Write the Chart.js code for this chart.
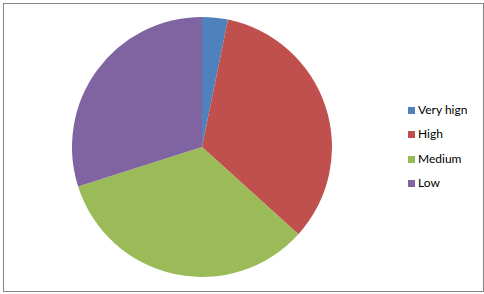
<!DOCTYPE html>
<html>
<head>
<meta charset="utf-8">
<script src="https://cdn.jsdelivr.net/npm/chart.js@4"></script>
<style>
  html, body { margin: 0; padding: 0; background: #fff; }
  #frame { position: absolute; left: 3px; top: 3px; width: 481px; height: 289px; border: 1px solid #868686; box-sizing: border-box; }
  #wrap { position: absolute; left: 72px; top: 17px; width: 260px; height: 260px; }
  #legend { position: absolute; left: 408px; top: 103px; font: 12px Lato, "Open Sans", sans-serif; color: #000; }
  #legend div { height: 24.3px; line-height: 14px; white-space: nowrap; }
  #legend span { display: inline-block; width: 7px; height: 7px; margin-right: 3px; vertical-align: 0px; }
</style>
</head>
<body>
<div id="frame"></div>
<div id="wrap"><canvas id="pie"></canvas></div>
<div id="legend"></div>
<script>
const labels = ['Very hign', 'High', 'Medium', 'Low'];
const values = [3.2, 33.5, 33.4, 29.9];
const colors = ['#4F81BD', '#C0504D', '#9BBB59', '#8064A2'];

const chart = new Chart(document.getElementById('pie'), {
  type: 'pie',
  data: { labels, datasets: [{ data: values, backgroundColor: colors, borderWidth: 0, hoverOffset: 0 }] },
  options: {
    responsive: true,
    maintainAspectRatio: false,
    animation: false,
    layout: { padding: 0 },
    plugins: { legend: { display: false }, tooltip: { enabled: false } },
  },
});

const legend = document.getElementById('legend');
chart.options.plugins.legend.labels.generateLabels(chart).forEach((item) => {
  const row = document.createElement('div');
  const box = document.createElement('span');
  box.style.background = item.fillStyle;
  row.appendChild(box);
  row.appendChild(document.createTextNode(item.text));
  legend.appendChild(row);
});
</script>
</body>
</html>
